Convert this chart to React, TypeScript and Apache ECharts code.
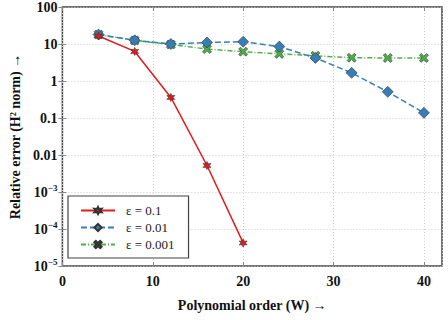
import React, { useEffect, useRef } from "react";
import * as echarts from "echarts";

const xValues = [4, 8, 12, 16, 20, 24, 28, 32, 36, 40];
const eps1Values = [16.5, 6.3, 0.36, 0.0052, 0.000042];
const eps01Values = [18, 12.6, 10, 11, 11.5, 8.5, 4.2, 1.66, 0.51, 0.138];
const eps001Values = [18, 12.5, 9.7, 7.3, 6.2, 5.4, 4.8, 4.25, 4.2, 4.2];
const seriesNames = ["ε = 0.1", "ε = 0.01", "ε = 0.001"];
const xTitle = "Polynomial order (W) →";
const yTitle = "Relative error (H² norm) →";

const STAR =
  "path://M10 0 L12.5 5.67 L18.66 5 L15 10 L18.66 15 L12.5 14.33 L10 20 L7.5 14.33 L1.34 15 L5 10 L1.34 5 L7.5 5.67 Z";
const CROSS =
  "path://M2 0 L5 3 L8 0 L10 2 L7 5 L10 8 L8 10 L5 7 L2 10 L0 8 L3 5 L0 2 Z";

const SERIF = "'Liberation Serif', 'DejaVu Serif', serif";

function pairs(vals: number[]) {
  return vals.map((v, i) => [xValues[i], v]);
}

function yLabel(v: number) {
  const e = Math.round(Math.log10(v));
  if (e >= -2) {
    if (e >= 0) return String(Math.round(v));
    return e === -1 ? "0.1" : "0.01";
  }
  return "10{sup|−" + Math.abs(e) + "}";
}

export default function App() {
  const ref = useRef<HTMLDivElement>(null);
  useEffect(() => {
    if (!ref.current) return;
    const chart = echarts.init(ref.current, undefined, { renderer: "svg" });
    const tickStyle = { show: true, inside: true, length: 4, lineStyle: { color: "#888", width: 1 } };
    chart.setOption({
      animation: false,
      backgroundColor: "#fff",
      grid: {
        left: 54,
        right: 6,
        top: 6,
        bottom: 54,
        show: true,
        borderColor: "#444",
        borderWidth: 1.5,
        backgroundColor: "transparent",
      },
      legend: {
        orient: "vertical",
        left: 68,
        top: 196,
        width: 121,
        itemWidth: 34,
        itemHeight: 9,
        itemGap: 4,
        padding: [8, 14, 7, 12],
        borderColor: "#444",
        borderWidth: 1.2,
        backgroundColor: "#fff",
        data: seriesNames,
        textStyle: { fontFamily: SERIF, fontSize: 13, color: "#222", padding: [0, 0, 0, 6] },
      },
      xAxis: [
        {
          type: "value",
          min: 0,
          max: 42,
          interval: 10,
          name: xTitle,
          nameLocation: "middle",
          nameGap: 32,
          nameTextStyle: { fontFamily: SERIF, fontSize: 14, fontWeight: "bold", color: "#111" },
          axisLine: { show: false },
          axisTick: tickStyle,
          axisLabel: { fontFamily: SERIF, fontSize: 14, fontWeight: "bold", color: "#111", margin: 8, showMaxLabel: false },
          splitLine: { show: true, lineStyle: { color: "#ccc", type: [1, 2], width: 1 } },
        },
        {
          type: "value",
          position: "top",
          min: 0,
          max: 42,
          interval: 10,
          axisLine: { show: false },
          axisTick: tickStyle,
          axisLabel: { show: false },
          splitLine: { show: false },
        },
      ],
      yAxis: [
        {
          type: "log",
          logBase: 10,
          min: 0.00001,
          max: 100,
          interval: 1,
          name: yTitle,
          nameLocation: "middle",
          nameGap: 40,
          nameRotate: 90,
          nameTextStyle: { fontFamily: SERIF, fontSize: 14, fontWeight: "bold", color: "#111" },
          axisLine: { show: false },
          axisTick: tickStyle,
          axisLabel: {
            fontFamily: SERIF,
            fontSize: 14,
            fontWeight: "bold",
            color: "#111",
            margin: 5,
            formatter: (v: number) => yLabel(v),
            rich: {
              sup: { fontFamily: SERIF, fontSize: 9, fontWeight: "bold", color: "#111", verticalAlign: "top", padding: [0, 0, 8, 0] },
            },
          },
          splitLine: { show: true, lineStyle: { color: "#ccc", type: [1, 2], width: 1 } },
        },
        {
          type: "log",
          logBase: 10,
          min: 0.00001,
          max: 100,
          interval: 1,
          position: "right",
          axisLine: { show: false },
          axisTick: tickStyle,
          axisLabel: { show: false },
          splitLine: { show: false },
        },
      ],
      series: [
        {
          name: seriesNames[0],
          type: "line",
          data: pairs(eps1Values),
          symbol: STAR,
          symbolSize: 8,
          color: "#e41a1c",
          lineStyle: { color: "#e41a1c", width: 1.5, type: "solid" },
          itemStyle: { color: "#e41a1c", borderColor: "#333", borderWidth: 0.6 },
          z: 4,
        },
        {
          name: seriesNames[1],
          type: "line",
          data: pairs(eps01Values),
          symbol: "diamond",
          symbolSize: 11,
          color: "#377eb8",
          lineStyle: { color: "#377eb8", width: 1.5, type: [6, 3] },
          itemStyle: { color: "#377eb8", borderColor: "#333", borderWidth: 0.6 },
          z: 3,
        },
        {
          name: seriesNames[2],
          type: "line",
          data: pairs(eps001Values),
          symbol: CROSS,
          symbolSize: 9,
          color: "#4daf4a",
          lineStyle: { color: "#4daf4a", width: 1.5, type: [5, 2, 1, 2] },
          itemStyle: { color: "#4daf4a", borderColor: "#333", borderWidth: 0.6 },
          z: 2,
        },
      ],
    });
    return () => chart.dispose();
  }, []);
  return <div ref={ref} style={{ width: 448, height: 320, position: "absolute", left: 0, top: 0 }} />;
}
